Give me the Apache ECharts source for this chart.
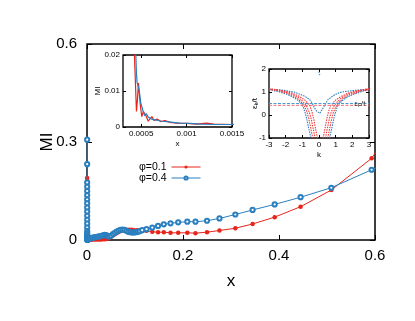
<!DOCTYPE html>
<html><head><meta charset="utf-8">
<script src="https://cdn.jsdelivr.net/npm/echarts@6/dist/echarts.min.js"></script>
<style>html,body{margin:0;padding:0;background:#fff}#c{width:415px;height:321px}</style>
</head><body><div id="c"></div>
<script>
// ---------- main plot data: MI vs x ----------
const seriesNames = ['φ=0.1', 'φ=0.4'];
const redX = [
  0.00030,0.00031,0.00032,0.00033,0.00034,0.00035,0.00036,0.00037,0.00038,0.00039,0.000395,0.00040,0.000405,0.00041,0.000415,0.00042,
  0.000433,0.000448,0.000459,0.00047,0.000481,0.000492,0.000507,0.000525,0.000544,0.000558,0.000577,0.000595,0.000618,0.00064,0.000677,0.000714,0.000762,0.000817,0.000891,0.001,0.00111,0.00122,0.0013,0.0015,
  0.002,0.005,0.009,0.013,0.017,0.021,0.025,0.029,0.033,0.037,0.041,0.045,0.049,0.053,0.057,0.061,0.065,0.069,0.073,0.078,0.083,0.088,0.093,0.098,0.104,0.110,0.116,
  0.124,0.136,0.148,0.160,0.174,0.190,0.209,0.226,0.250,0.276,0.309,0.345,0.391,0.445,0.509,0.593,0.68];
const redY = [
  0.190,0.181,0.170,0.158,0.146,0.134,0.122,0.110,0.098,0.086,0.074,0.062,0.050,0.038,0.028,0.024,
  0.015,0.0043,0.0076,0.0122,0.0089,0.0057,0.0029,0.0043,0.0048,0.0029,0.0016,0.0022,0.0029,0.0018,0.0022,0.0015,0.0018,0.0013,0.0011,0.0010,0.0008,0.0011,0.0008,0.0007,
  0.0006,0.0008,0.0010,0.0012,0.0012,0.0014,0.0015,0.0018,0.0020,0.0025,0.0030,0.0050,0.0090,0.0130,0.0170,0.0210,0.0240,0.0270,0.0290,0.0300,0.0310,0.0310,0.0310,0.0300,0.0300,0.0295,0.0290,
  0.028,0.025,0.024,0.024,0.022,0.022,0.022,0.021,0.024,0.029,0.036,0.049,0.070,0.102,0.153,0.250,0.44];
const blueX = [
  0.00030,0.00031,0.00032,0.00033,0.00034,0.000345,0.00035,0.00036,0.00037,0.00038,0.00039,0.0004,0.00041,0.00042,0.00043,0.00044,
  0.000448,0.000455,0.00047,0.000477,0.000485,0.000496,0.000507,0.000522,0.00054,0.000558,0.000577,0.000614,0.000651,0.000688,0.000725,0.00078,0.000854,0.000928,0.00104,0.00115,0.0013,0.0015,
  0.002,0.004,0.006,0.009,0.012,0.015,0.018,0.021,0.025,0.029,0.033,0.037,0.040,0.043,0.046,0.050,0.054,0.058,0.062,0.066,0.070,0.074,0.078,0.082,0.086,0.090,0.094,0.098,0.102,0.106,0.110,0.115,
  0.124,0.136,0.148,0.160,0.174,0.190,0.209,0.226,0.250,0.276,0.309,0.345,0.391,0.445,0.509,0.593,0.68];
const blueY = [
  0.307,0.232,0.176,0.163,0.150,0.137,0.124,0.112,0.099,0.087,0.074,0.062,0.050,0.038,0.027,0.021,
  0.0149,0.0124,0.0122,0.0103,0.0089,0.0066,0.0057,0.0043,0.0031,0.0037,0.0028,0.0022,0.0020,0.0018,0.0016,0.0015,0.0013,0.0011,0.0010,0.0008,0.0007,0.0007,
  0.002,0.004,0.005,0.006,0.007,0.008,0.009,0.010,0.011,0.012,0.014,0.016,0.015,0.012,0.011,0.013,0.018,0.022,0.026,0.029,0.031,0.032,0.031,0.028,0.025,0.024,0.023,0.023,0.024,0.025,0.027,0.030,
  0.033,0.038,0.043,0.048,0.051,0.054,0.056,0.056,0.059,0.066,0.078,0.092,0.109,0.131,0.160,0.215,0.27];
const mainXTicks = [0, 0.2, 0.4, 0.6];
const mainYTicks = [0, 0.3, 0.6];

// ---------- inset 1 (zoom of small x) ----------
const insetXRange = [0.0003, 0.0015];
const insetXTicks = [0.0005, 0.001, 0.0015];
const insetYTicks = [0, 0.01, 0.02];

// ---------- inset 2: dispersion eps_k/t vs k (null = break) ----------
const bandXTicks = [-3, -2, -1, 0, 1, 2, 3];
const bandYTicks = [-1, 0, 1, 2];
const bandAK = [-3,-2.5,-2.1,-1.5,-1.06,-0.8,-0.56,-0.4,-0.26,-0.14,-0.05,0.05,0.14,0.24,0.36,0.54,0.66,0.94,1.26,1.54,2.14,2.6,3];
const bandAE = [1.12,1.1,1.07,1.0,0.88,0.79,0.67,0.5,0.3,0.16,0.08,0.08,0.15,0.3,0.45,0.67,0.75,0.88,0.98,1.02,1.07,1.1,1.12];
const bandBK = [-3,-2.5,-2.0,-1.6,-1.3,-1.1,-0.95,-0.84,-0.74,-0.64,-0.54,-0.48,null,0.63,0.69,0.79,0.89,0.99,1.1,1.25,1.45,1.75,2.15,2.6,3];
const bandBE = [1.1,1.03,0.92,0.8,0.66,0.52,0.36,0.12,-0.15,-0.5,-0.82,-1.0,null,-1.0,-0.82,-0.5,-0.15,0.12,0.36,0.52,0.66,0.8,0.92,1.03,1.1];
const red1K = [-3,-2.5,-2.0,-1.6,-1.3,-1.06,-0.86,-0.72,-0.6,-0.5,-0.42,-0.37,null,0.52,0.57,0.65,0.75,0.87,1.01,1.21,1.45,1.75,2.15,2.6,3];
const red1E = [1.12,1.06,0.96,0.85,0.72,0.56,0.36,0.12,-0.2,-0.55,-0.84,-1.0,null,-1.0,-0.84,-0.55,-0.2,0.12,0.36,0.56,0.72,0.85,0.96,1.06,1.12];
const red2K = [-3,-2.5,-2.0,-1.6,-1.25,-0.98,-0.74,-0.58,-0.46,-0.36,-0.28,-0.23,null,0.38,0.43,0.51,0.61,0.73,0.89,1.13,1.4,1.75,2.15,2.6,3];
const red2E = [1.13,1.08,1.0,0.9,0.77,0.6,0.38,0.12,-0.2,-0.55,-0.84,-1.0,null,-1.0,-0.84,-0.55,-0.2,0.12,0.38,0.6,0.77,0.9,1.0,1.08,1.13];
const red3K = [-3,-2.5,-2.0,-1.6,-1.2,-0.85,-0.56,-0.42,-0.31,-0.22,-0.14,-0.09,null,0.24,0.29,0.37,0.46,0.57,0.71,1.0,1.35,1.75,2.15,2.6,3];
const red3E = [1.14,1.1,1.03,0.95,0.82,0.65,0.42,0.14,-0.2,-0.55,-0.84,-1.0,null,-1.0,-0.84,-0.55,-0.2,0.14,0.42,0.65,0.82,0.95,1.03,1.1,1.14];
const fermiBlue = 0.5;
const fermiRed = 0.42;
const spotK = [0, 0.03];
const spotE = [1.86, 1.76];

// ---------- build ----------
const FONT = '"Liberation Sans", Arial, Helvetica, sans-serif';
const RED = '#e8251c', BLUE = '#2a7fbf';
const pairs = (xs, ys) => xs.map((x, i) => (x === null || ys[i] === null) ? ['-', '-'] : [x, ys[i]]);
const fmt = v => String(+Number(v).toPrecision(6));

function ax(grid, ticks, pos, showLabel, o) {
  return Object.assign({
    gridIndex: grid, type: 'value', position: pos,
    min: ticks[0], max: ticks[ticks.length - 1], interval: ticks[1] - ticks[0],
    axisLine: {show: false, onZero: false}, splitLine: {show: false},
    nameMoveOverlap: false,
    axisTick: {inside: true, length: 3, lineStyle: {color: '#000', width: 1}},
    axisLabel: {show: showLabel, color: '#000', fontFamily: FONT, fontSize: 8, margin: 3, formatter: fmt}
  }, o || {});
}
const tick5 = {inside: true, length: 5, lineStyle: {color: '#000', width: 1}};

const c = echarts.init(document.getElementById('c'), null, {renderer: 'canvas'});
const option = {
  animation: false,
  backgroundColor: '#fff',
  textStyle: {fontFamily: FONT},
  grid: [
    {left: 87, top: 44, width: 288, height: 196, show: true, borderColor: '#000', borderWidth: 1.5, backgroundColor: 'transparent'},
    {left: 123, top: 55, width: 109, height: 72, show: true, borderColor: '#000', borderWidth: 1.3, backgroundColor: '#fff'},
    {left: 269, top: 69, width: 100, height: 69, show: true, borderColor: '#000', borderWidth: 1.3, backgroundColor: '#fff'}
  ],
  legend: {
    data: seriesNames, orient: 'vertical', align: 'right', left: 139, top: 161.5,
    itemGap: 0, itemWidth: 29, itemHeight: 4, padding: 0,
    lineStyle: {width: 1},
    textStyle: {fontSize: 10.5, color: '#000', fontFamily: FONT, lineHeight: 11}
  },
  xAxis: [
    ax(0, mainXTicks, 'bottom', true, {
      axisTick: tick5,
      axisLabel: {color: '#000', fontFamily: FONT, fontSize: 15, margin: 8, formatter: fmt},
      name: 'x', nameLocation: 'middle', nameGap: 33,
      nameTextStyle: {fontSize: 17, color: '#000', fontFamily: FONT}
    }),
    ax(0, mainXTicks, 'top', false, {axisTick: tick5}),
    ax(1, [insetXRange[0], insetXRange[1]], 'bottom', true, {
      axisTick: {inside: true, length: 3, customValues: insetXTicks, lineStyle: {color: '#000'}},
      axisLabel: {color: '#000', fontFamily: FONT, fontSize: 8, margin: 3, customValues: insetXTicks, formatter: fmt},
      name: 'x', nameLocation: 'middle', nameGap: 13,
      nameTextStyle: {fontSize: 8, color: '#000', fontFamily: FONT}
    }),
    ax(1, [insetXRange[0], insetXRange[1]], 'top', false, {
      axisTick: {inside: true, length: 3, customValues: insetXTicks, lineStyle: {color: '#000'}}
    }),
    ax(2, bandXTicks, 'bottom', true, {
      name: 'k', nameLocation: 'middle', nameGap: 13,
      nameTextStyle: {fontSize: 8, color: '#000', fontFamily: FONT}
    }),
    ax(2, bandXTicks, 'top', false)
  ],
  yAxis: [
    ax(0, mainYTicks, 'left', true, {
      axisTick: tick5,
      axisLabel: {color: '#000', fontFamily: FONT, fontSize: 15, margin: 10, formatter: fmt},
      name: 'MI', nameLocation: 'middle', nameGap: 31,
      nameTextStyle: {fontSize: 17, color: '#000', fontFamily: FONT}
    }),
    ax(0, mainYTicks, 'right', false, {axisTick: tick5}),
    ax(1, insetYTicks, 'left', true, {
      name: 'MI', nameLocation: 'middle', nameGap: 21,
      nameTextStyle: {fontSize: 8, color: '#000', fontFamily: FONT}
    }),
    ax(1, insetYTicks, 'right', false),
    ax(2, bandYTicks, 'left', true, {
      name: '{a|ε}{b|k}{a|/t}', nameLocation: 'middle', nameGap: 10,
      nameTextStyle: {color: '#000', fontFamily: FONT,
        rich: {a: {fontSize: 8, color: '#000', fontFamily: FONT}, b: {fontSize: 6, color: '#000', fontFamily: FONT, padding: [3, 0, 0, 0]}}}
    }),
    ax(2, bandYTicks, 'right', false)
  ],
  series: [
    {name: seriesNames[0], type: 'line', xAxisIndex: 0, yAxisIndex: 0, data: pairs(redX, redY),
     symbol: 'circle', symbolSize: 4.5, color: RED, lineStyle: {width: 1, color: RED}, itemStyle: {color: RED}, z: 3},
    {name: seriesNames[1], type: 'line', xAxisIndex: 0, yAxisIndex: 0, data: pairs(blueX, blueY),
     symbol: 'emptyCircle', symbolSize: 4.2, color: BLUE, lineStyle: {width: 1, color: BLUE}, itemStyle: {color: BLUE, borderWidth: 1}, z: 4},
    {name: 'inset-red', type: 'line', xAxisIndex: 2, yAxisIndex: 2, data: pairs(redX, redY),
     showSymbol: false, lineStyle: {width: 1.2, color: RED}, z: 3},
    {name: 'inset-blue', type: 'line', xAxisIndex: 2, yAxisIndex: 2, data: pairs(blueX, blueY),
     showSymbol: false, lineStyle: {width: 1.2, color: BLUE}, z: 4},
    {name: 'bandA', type: 'line', xAxisIndex: 4, yAxisIndex: 4, data: pairs(bandAK, bandAE), showSymbol: false,
     lineStyle: {width: 1.1, color: BLUE, type: [1.5, 1]}},
    {name: 'bandB', type: 'line', xAxisIndex: 4, yAxisIndex: 4, data: pairs(bandBK, bandBE), showSymbol: false,
     lineStyle: {width: 1.1, color: BLUE, type: [1.5, 1]}},
    {name: 'red1', type: 'line', xAxisIndex: 4, yAxisIndex: 4, data: pairs(red1K, red1E), showSymbol: false,
     lineStyle: {width: 1.1, color: '#f03a3a', type: [1.5, 1]}},
    {name: 'red2', type: 'line', xAxisIndex: 4, yAxisIndex: 4, data: pairs(red2K, red2E), showSymbol: false,
     lineStyle: {width: 1.1, color: '#f03a3a', type: [1.5, 1]}},
    {name: 'red3', type: 'line', xAxisIndex: 4, yAxisIndex: 4, data: pairs(red3K, red3E), showSymbol: false,
     lineStyle: {width: 1.1, color: '#f03a3a', type: [1.5, 1]}},
    {name: 'fermiBlue', type: 'line', xAxisIndex: 4, yAxisIndex: 4,
     data: [[bandXTicks[0], fermiBlue], [bandXTicks[bandXTicks.length - 1], fermiBlue]], showSymbol: false,
     lineStyle: {width: 1, color: '#4a9ad6', type: [3, 1.5]}},
    {name: 'fermiRed', type: 'line', xAxisIndex: 4, yAxisIndex: 4,
     data: [[bandXTicks[0], fermiRed], [bandXTicks[bandXTicks.length - 1], fermiRed]], showSymbol: false,
     lineStyle: {width: 1, color: '#f06a6a', type: [3, 1.5]},
     markPoint: {symbol: 'circle', symbolSize: 0, silent: true,
       data: [{coord: [2.45, (fermiBlue + fermiRed) / 2 + 0.02]}],
       label: {show: true, position: 'inside', formatter: '{a|ε}{b|F}{a|/t}',
         rich: {a: {fontSize: 7.5, color: '#333', fontFamily: FONT}, b: {fontSize: 5.5, color: '#333', fontFamily: FONT, padding: [3, 0, 0, 0]}}}}},
    {name: 'spot', type: 'scatter', xAxisIndex: 4, yAxisIndex: 4, data: pairs(spotK, spotE),
     symbolSize: 1.6, itemStyle: {color: BLUE}}
  ]
};
c.setOption(option);
</script>
</body></html>
